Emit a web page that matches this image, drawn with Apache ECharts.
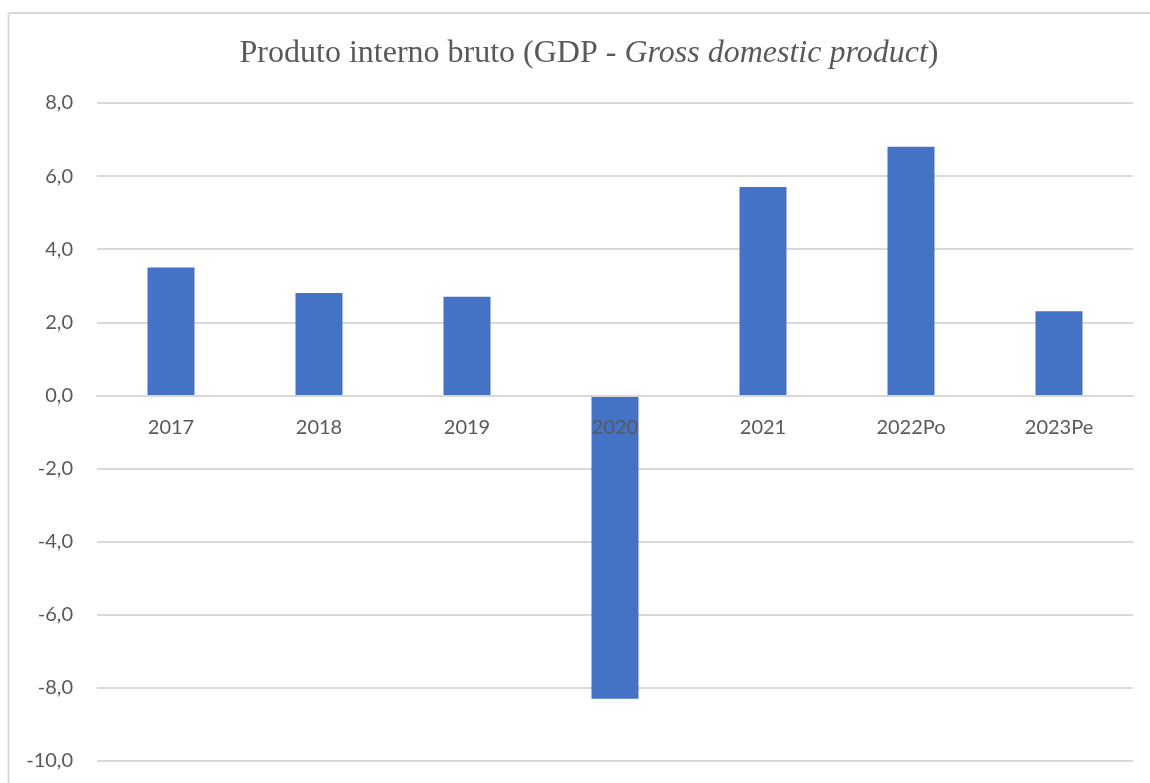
<!DOCTYPE html>
<html>
<head>
<meta charset="utf-8">
<script src="https://cdn.jsdelivr.net/npm/echarts@6/dist/echarts.min.js"></script>
<style>
html,body{margin:0;padding:0;background:#fff;}
#c{width:1150px;height:783px;}
</style>
</head>
<body>
<div id="c"></div>
<script>
const categories = ['2017', '2018', '2019', '2020', '2021', '2022Po', '2023Pe'];
const gdpValues = [3.5, 2.8, 2.7, -8.3, 5.7, 6.8, 2.3];
const yTicks = { min: -10, max: 8, interval: 2 };

const GRID_BOTTOM = 22;
const chart = echarts.init(document.getElementById('c'), null, { renderer: 'canvas' });
const option = {
  backgroundColor: '#ffffff',
  animation: false,
  graphic: [
    { type: 'line', shape: { x1: 8.5, y1: 13, x2: 1150, y2: 13 }, style: { stroke: '#d9d9d9', lineWidth: 2 }, silent: true },
    { type: 'line', shape: { x1: 8.5, y1: 13, x2: 8.5, y2: 783 }, style: { stroke: '#d9d9d9', lineWidth: 2 }, silent: true }
  ],
  title: {
    text: '{n|Produto interno bruto (GDP - }{i|Gross domestic product}{n|)}',
    left: 584,
    textAlign: 'center',
    top: 33,
    textStyle: {
      fontWeight: 'normal',
      rich: {
        n: { fontFamily: 'Liberation Serif', fontSize: 32, fontWeight: 'normal', color: '#595959' },
        i: { fontFamily: 'Liberation Serif', fontSize: 32, fontWeight: 'normal', fontStyle: 'italic', color: '#595959' }
      }
    }
  },
  grid: { left: 97, right: 17, top: 103, bottom: GRID_BOTTOM, containLabel: false, outerBoundsMode: 'none' },
  xAxis: {
    type: 'category',
    data: categories,
    position: 'bottom',
    offset: 0,
    axisLine: { show: true, onZero: false, lineStyle: { color: '#d9d9d9', width: 2 } },
    axisTick: { show: false },
    axisLabel: { color: '#595959', fontFamily: 'Lato', fontSize: 20, margin: 22 },
    z: 3
  },
  yAxis: {
    type: 'value',
    min: yTicks.min,
    max: yTicks.max,
    interval: yTicks.interval,
    axisLine: { show: false },
    axisTick: { show: false },
    splitLine: { lineStyle: { color: '#d9d9d9', width: 2 } },
    axisLabel: {
      color: '#595959', fontFamily: 'Lato', fontSize: 20, margin: 24,
      formatter: v => v.toFixed(1).replace('.', ',')
    }
  },
  series: [{
    type: 'bar',
    data: gdpValues,
    barWidth: 47,
    itemStyle: { color: '#4472C4' },
    z: 2
  }]
};
chart.setOption(option);
// move the category axis up to the zero line, using the library's own scale
const zeroY = chart.convertToPixel({ yAxisIndex: 0 }, 0);
const bottomY = chart.convertToPixel({ yAxisIndex: 0 }, yTicks.min);
chart.setOption({ xAxis: { offset: zeroY - bottomY } });
</script>
</body>
</html>
